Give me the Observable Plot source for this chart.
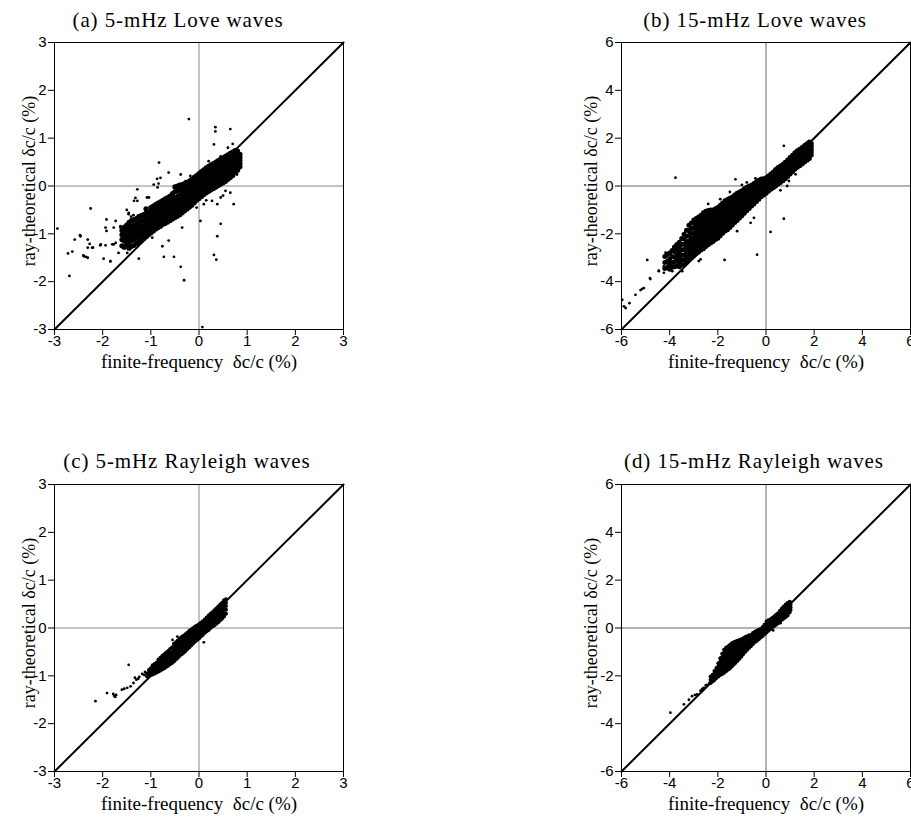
<!DOCTYPE html>
<html><head><meta charset="utf-8">
<script src="https://cdn.jsdelivr.net/npm/d3@7"></script>
<script src="https://cdn.jsdelivr.net/npm/@observablehq/plot@0.6"></script>
<style>
html,body{margin:0;padding:0;background:#fff;overflow:hidden;}
#wrap{position:relative;width:911px;height:819px;overflow:hidden;}
.panel{position:absolute;}
.ttl{position:absolute;font-family:"Liberation Serif",serif;font-size:21px;letter-spacing:0.9px;white-space:nowrap;transform:translate(-50%,-50%);color:#000;}
</style></head><body><div id="wrap"></div>
<script>
// ---------- data ----------
const titles = ["(a) 5-mHz Love waves", "(b) 15-mHz Love waves", "(c) 5-mHz Rayleigh waves", "(d) 15-mHz Rayleigh waves"];
const xLabel = "finite-frequency\u00a0\u00a0δc/c (%)";
const yLabel = "ray-theoretical δc/c (%)";
const ticks5 = [-3, -2, -1, 0, 1, 2, 3];
const ticks15 = [-6, -4, -2, 0, 2, 4, 6];
const diag5 = [-3, 3];
const diag15 = [-6, 6];

// (a) 5-mHz Love: dense band, columns [x, y...]
const love5Band = [
[-1.60,-1.25,-1.12,-1.02,-0.93],
[-1.55,-1.28,-1.15,-1.05,-0.95,-0.86],
[-1.50,-1.22,-1.10,-1.00,-0.90,-0.82],
[-1.45,-1.30,-1.18,-1.07,-0.97,-0.88,-0.76],
[-1.40,-1.26,-1.14,-1.04,-0.95,-0.84,-0.72],
[-1.35,-1.24,-1.12,-1.01,-0.92,-0.81,-0.70],
[-1.30,-1.20,-1.09,-0.99,-0.89,-0.79,-0.68],
[-1.25,-1.18,-1.06,-0.96,-0.86,-0.76,-0.64],
[-1.20,-1.14,-1.03,-0.93,-0.84,-0.73,-0.62],
[-1.15,-1.10,-1.00,-0.90,-0.81,-0.71,-0.60],
[-1.10,-1.06,-0.97,-0.87,-0.78,-0.68,-0.57,-0.48],
[-1.05,-1.02,-0.93,-0.84,-0.75,-0.65,-0.55],
[-1.00,-0.98,-0.90,-0.81,-0.72,-0.62,-0.53,-0.45],
[-0.95,-0.94,-0.86,-0.78,-0.69,-0.60,-0.51,-0.42],
[-0.90,-0.90,-0.82,-0.74,-0.66,-0.57,-0.48,-0.39],
[-0.85,-0.87,-0.79,-0.71,-0.63,-0.54,-0.45,-0.36],
[-0.80,-0.84,-0.76,-0.68,-0.60,-0.52,-0.43,-0.33],
[-0.75,-0.80,-0.72,-0.65,-0.57,-0.49,-0.40,-0.30],
[-0.70,-0.78,-0.70,-0.62,-0.54,-0.46,-0.37,-0.27],
[-0.65,-0.75,-0.67,-0.59,-0.51,-0.43,-0.34,-0.24],
[-0.60,-0.72,-0.64,-0.56,-0.48,-0.40,-0.31,-0.21],
[-0.55,-0.69,-0.61,-0.53,-0.45,-0.37,-0.28,-0.16],
[-0.50,-0.66,-0.58,-0.50,-0.42,-0.34,-0.25,-0.12,-0.02],
[-0.45,-0.63,-0.55,-0.47,-0.39,-0.31,-0.22,-0.10,0.00],
[-0.40,-0.60,-0.52,-0.44,-0.36,-0.28,-0.19,-0.08,0.02],
[-0.35,-0.56,-0.48,-0.40,-0.32,-0.24,-0.15,-0.05,0.03],
[-0.30,-0.52,-0.44,-0.36,-0.28,-0.20,-0.11,-0.02,0.05],
[-0.25,-0.48,-0.40,-0.32,-0.24,-0.16,-0.07,0.01,0.07],
[-0.20,-0.44,-0.36,-0.28,-0.20,-0.12,-0.04,0.04,0.10],
[-0.15,-0.40,-0.32,-0.24,-0.16,-0.08,0.00,0.07,0.14],
[-0.10,-0.35,-0.27,-0.19,-0.11,-0.03,0.05,0.12,0.18],
[-0.05,-0.30,-0.22,-0.14,-0.06,0.02,0.09,0.16,0.22],
[0.00,-0.26,-0.18,-0.10,-0.02,0.06,0.13,0.20,0.26],
[0.05,-0.22,-0.14,-0.06,0.02,0.10,0.17,0.24,0.30],
[0.10,-0.18,-0.10,-0.02,0.06,0.14,0.21,0.28,0.34],
[0.15,-0.14,-0.06,0.02,0.10,0.18,0.25,0.32,0.38],
[0.20,-0.11,-0.03,0.05,0.13,0.21,0.28,0.35,0.41],
[0.25,-0.08,0.00,0.08,0.16,0.24,0.31,0.38,0.44],
[0.30,-0.05,0.03,0.11,0.19,0.27,0.34,0.41,0.47],
[0.35,-0.02,0.06,0.14,0.22,0.30,0.37,0.44,0.50],
[0.40,0.01,0.09,0.17,0.25,0.33,0.40,0.47,0.53],
[0.45,0.04,0.12,0.20,0.28,0.36,0.43,0.50,0.56],
[0.50,0.07,0.15,0.23,0.31,0.39,0.46,0.53,0.59],
[0.55,0.10,0.18,0.26,0.34,0.42,0.49,0.56,0.62],
[0.60,0.14,0.22,0.30,0.38,0.45,0.52,0.59,0.65],
[0.65,0.18,0.26,0.34,0.41,0.48,0.55,0.62,0.68],
[0.70,0.22,0.30,0.37,0.44,0.51,0.58,0.65,0.71],
[0.75,0.28,0.35,0.42,0.49,0.56,0.63,0.69,0.74],
[0.80,0.33,0.40,0.47,0.54,0.61,0.67,0.73],
[0.85,0.40,0.47,0.54,0.60,0.66]
];
const love5Out = [
[-0.21,1.40],[0.34,1.23],[0.34,1.14],[0.65,1.19],[0.31,0.87],[-0.83,0.49],[-2.94,-0.89],[-2.25,-0.47],
[-2.47,-1.03],[-2.58,-1.12],[-2.31,-1.12],[-2.72,-1.41],[-2.63,-1.37],[-2.69,-1.88],[-2.39,-1.47],[-2.31,-1.50],
[-2.31,-1.29],[-2.22,-1.29],[-2.04,-1.22],[-1.98,-1.52],[-1.84,-1.57],[-1.92,-0.94],[-1.92,-0.70],[-1.77,-1.22],
[-1.73,-0.73],[-1.63,-0.87],[-1.25,-1.52],[-0.73,-1.48],[-0.63,-1.14],[-0.52,-1.48],[-0.38,-1.69],[-0.31,-1.97],
[0.07,-2.95],[0.31,-1.44],[0.36,-1.54],[0.38,-1.05],[0.45,-0.79],[0.27,-0.31],[0.38,-0.38],[0.65,-0.14],
[0.45,-0.24],[-0.80,0.17],[-0.63,0.28],[-0.38,0.24],[-1.28,-0.07],[-1.08,-0.24],[-1.35,-0.31],[-0.76,-1.26],
[-0.97,-1.08],[-0.35,-0.87],[0.03,-0.73],[0.10,-0.38],[-0.94,0.03],[-0.28,0.10],[-0.18,0.21],[0.72,-0.38],
[0.79,0.24],[-1.94,-0.87],[-1.77,-0.87],[-1.63,-0.84],[-1.60,-0.93],[-1.57,-1.00],[-2.46,-1.05],[-2.27,-1.21],
[-2.20,-1.29],[-2.40,-1.45],[-2.35,-1.48],[-2.05,-1.24],[-1.94,-1.24],[-1.84,-1.58],[-1.80,-1.22],[-1.73,-1.19],
[-1.67,-1.40],[-1.49,-1.40],[-1.42,-1.29],[-1.32,-0.25],[-1.28,-0.31],[-1.04,-0.24],[-1.46,-0.59],[-1.41,-0.64],
[-1.36,-0.61],[-1.50,-0.50],[-1.46,-0.56],[-0.97,-0.45],[-0.87,0.15],[-0.86,-0.03],[-0.84,0.05],[-1.23,-0.86],
[0.20,0.52],[0.45,0.62],[0.60,0.80],[0.70,0.88],[0.55,-0.10],[0.50,-0.20],[0.15,-0.30],[-0.05,-0.45]
];

// (b) 15-mHz Love
const love15Band = [
[-4.2,-3.45,-3.2,-2.95],
[-4.1,-3.4,-3.15,-2.85],
[-4.0,-3.48,-3.28,-3.05,-2.8],
[-3.9,-3.4,-3.2,-2.95,-2.7],
[-3.8,-3.38,-3.18,-2.98,-2.75,-2.55],
[-3.7,-3.35,-3.12,-2.9,-2.68,-2.45],
[-3.6,-3.38,-3.2,-3.0,-2.8,-2.58,-2.35],
[-3.5,-3.3,-3.1,-2.9,-2.68,-2.45,-2.2],
[-3.4,-3.28,-3.08,-2.88,-2.66,-2.44,-2.22,-2.02],
[-3.3,-3.18,-2.98,-2.78,-2.56,-2.34,-2.1,-1.85],
[-3.2,-3.08,-2.9,-2.7,-2.5,-2.3,-2.08,-1.86,-1.64],
[-3.1,-3.0,-2.82,-2.62,-2.42,-2.22,-2.0,-1.78,-1.55],
[-3.0,-2.92,-2.74,-2.55,-2.36,-2.16,-1.96,-1.76,-1.56,-1.42],
[-2.9,-2.84,-2.66,-2.47,-2.28,-2.08,-1.88,-1.68,-1.5,-1.36],
[-2.8,-2.76,-2.58,-2.4,-2.21,-2.02,-1.82,-1.62,-1.45,-1.3],
[-2.7,-2.68,-2.5,-2.32,-2.14,-1.95,-1.76,-1.56,-1.38,-1.22],
[-2.6,-2.62,-2.44,-2.26,-2.08,-1.9,-1.7,-1.5,-1.3,-1.12],
[-2.5,-2.53,-2.36,-2.18,-2.0,-1.82,-1.63,-1.44,-1.25,-1.06],
[-2.4,-2.46,-2.3,-2.12,-1.95,-1.77,-1.58,-1.4,-1.2,-1.02],
[-2.3,-2.38,-2.22,-2.05,-1.88,-1.7,-1.52,-1.34,-1.16,-1.0],
[-2.2,-2.32,-2.16,-1.99,-1.82,-1.65,-1.47,-1.3,-1.13,-1.0],
[-2.1,-2.24,-2.08,-1.92,-1.75,-1.58,-1.41,-1.24,-1.08,-0.95],
[-2.0,-2.18,-2.02,-1.86,-1.7,-1.53,-1.36,-1.19,-1.03,-0.9],
[-1.9,-2.08,-1.92,-1.76,-1.6,-1.44,-1.27,-1.1,-0.94,-0.8],
[-1.8,-1.98,-1.82,-1.66,-1.5,-1.34,-1.18,-1.02,-0.86,-0.71],
[-1.7,-1.88,-1.72,-1.56,-1.4,-1.24,-1.08,-0.92,-0.76,-0.62],
[-1.6,-1.83,-1.67,-1.51,-1.35,-1.19,-1.03,-0.87,-0.71,-0.56],
[-1.5,-1.73,-1.57,-1.41,-1.25,-1.09,-0.93,-0.78,-0.64,-0.51],
[-1.4,-1.63,-1.47,-1.31,-1.15,-0.99,-0.84,-0.7,-0.57,-0.46],
[-1.3,-1.53,-1.37,-1.21,-1.05,-0.9,-0.76,-0.62,-0.49,-0.38],
[-1.2,-1.44,-1.28,-1.12,-0.97,-0.82,-0.68,-0.54,-0.41,-0.3],
[-1.1,-1.34,-1.18,-1.03,-0.88,-0.74,-0.6,-0.47,-0.35,-0.25],
[-1.0,-1.24,-1.09,-0.94,-0.8,-0.66,-0.52,-0.39,-0.28,-0.2],
[-0.9,-1.14,-0.99,-0.85,-0.71,-0.57,-0.44,-0.31,-0.2,-0.12],
[-0.8,-1.04,-0.9,-0.76,-0.62,-0.49,-0.36,-0.24,-0.13,-0.05],
[-0.7,-0.94,-0.8,-0.67,-0.54,-0.41,-0.28,-0.16,-0.06,0.0],
[-0.6,-0.84,-0.71,-0.58,-0.45,-0.33,-0.21,-0.09,0.03],
[-0.5,-0.75,-0.62,-0.49,-0.37,-0.25,-0.13,-0.01,0.1],
[-0.4,-0.65,-0.52,-0.4,-0.28,-0.16,-0.04,0.08,0.18],
[-0.3,-0.55,-0.43,-0.31,-0.19,-0.07,0.05,0.15,0.24],
[-0.2,-0.45,-0.33,-0.21,-0.09,0.03,0.14,0.23,0.29],
[-0.1,-0.38,-0.26,-0.14,-0.02,0.1,0.2,0.3],
[0.0,-0.3,-0.18,-0.06,0.06,0.17,0.27,0.35],
[0.1,-0.22,-0.1,0.02,0.14,0.25,0.35,0.42],
[0.2,-0.14,-0.02,0.1,0.22,0.33,0.43,0.5],
[0.3,-0.07,0.06,0.18,0.3,0.41,0.51,0.59],
[0.4,0.0,0.13,0.26,0.38,0.49,0.6,0.69],
[0.5,0.08,0.21,0.34,0.46,0.57,0.68,0.77],
[0.6,0.15,0.28,0.41,0.53,0.64,0.75,0.84],
[0.7,0.22,0.35,0.48,0.6,0.71,0.82,0.91],
[0.8,0.3,0.43,0.56,0.68,0.79,0.9,0.99],
[0.9,0.4,0.52,0.64,0.76,0.87,0.98,1.09],
[1.0,0.5,0.62,0.74,0.86,0.97,1.08,1.19],
[1.1,0.6,0.72,0.84,0.96,1.07,1.18,1.29],
[1.2,0.7,0.82,0.94,1.06,1.17,1.28,1.39],
[1.3,0.78,0.9,1.02,1.14,1.25,1.36,1.47],
[1.4,0.85,0.97,1.09,1.21,1.32,1.43,1.54],
[1.5,0.92,1.04,1.16,1.28,1.39,1.5,1.61],
[1.6,1.0,1.12,1.24,1.36,1.47,1.58,1.69],
[1.7,1.08,1.2,1.32,1.44,1.55,1.66,1.77],
[1.8,1.15,1.27,1.39,1.51,1.62,1.73,1.84],
[1.88,1.3,1.42,1.54,1.66,1.78]
];
const love15Out = [
[-3.76,0.35],[-1.27,0.28],[-0.44,0.32],[0.74,1.68],[0.74,-1.37],[0.19,-1.92],[-0.37,-2.87],[-1.72,-3.09],
[-4.93,-3.09],[-4.80,-3.89],[-4.45,-3.56],[-4.24,-3.63],[-4.21,-3.42],[-4.03,-3.21],[-4.17,-2.79],[-4.10,-2.93],
[-3.89,-3.56],[-3.83,-3.35],[-3.55,-3.14],[-3.48,-3.56],[-5.97,-4.76],[-5.90,-5.03],[-5.83,-5.10],[-5.67,-4.90],
[-5.42,-4.55],[-5.14,-4.30],[-5.07,-4.27],[-5.21,-4.35],[-4.82,-3.85],[-4.45,-3.54],[-4.24,-3.36],[-3.34,-1.89],
[-3.20,-1.96],[0.88,0.0],[0.60,-0.18],[0.95,0.21],[1.16,0.63],[1.23,0.49],[-1.20,-1.89],[-0.64,-1.54],
[-0.50,-1.33],[-2.79,-3.14],[-2.72,-3.07],[-2.4,-0.75],[-1.9,-0.55],[-1.5,-0.25],[-1.0,0.05],[-0.8,0.15]
];

// (c) 5-mHz Rayleigh
const ray5Band = [
[-1.08,-1.01,-0.95],
[-1.04,-1.0,-0.94,-0.88],
[-1.00,-0.98,-0.91,-0.84],
[-0.96,-0.97,-0.9,-0.83,-0.78],
[-0.92,-0.95,-0.88,-0.81,-0.75],
[-0.88,-0.93,-0.86,-0.79,-0.72],
[-0.84,-0.91,-0.84,-0.77,-0.7,-0.66],
[-0.80,-0.89,-0.82,-0.75,-0.68,-0.62],
[-0.76,-0.86,-0.79,-0.72,-0.65,-0.58],
[-0.72,-0.84,-0.77,-0.7,-0.62,-0.55],
[-0.68,-0.81,-0.74,-0.67,-0.59,-0.51],
[-0.64,-0.79,-0.72,-0.64,-0.56,-0.48],
[-0.60,-0.76,-0.69,-0.61,-0.53,-0.44],
[-0.56,-0.73,-0.66,-0.58,-0.5,-0.41],
[-0.52,-0.7,-0.62,-0.54,-0.46,-0.38,-0.33],
[-0.48,-0.66,-0.58,-0.5,-0.42,-0.35,-0.3],
[-0.44,-0.62,-0.54,-0.46,-0.39,-0.32,-0.26],
[-0.40,-0.58,-0.5,-0.43,-0.36,-0.29,-0.22],
[-0.36,-0.55,-0.47,-0.4,-0.33,-0.26,-0.19],
[-0.32,-0.52,-0.44,-0.37,-0.3,-0.23,-0.16],
[-0.28,-0.48,-0.41,-0.34,-0.27,-0.2,-0.13],
[-0.24,-0.44,-0.37,-0.3,-0.23,-0.16,-0.1],
[-0.20,-0.4,-0.33,-0.26,-0.19,-0.12,-0.06],
[-0.16,-0.36,-0.29,-0.22,-0.15,-0.09,-0.03],
[-0.12,-0.32,-0.25,-0.18,-0.12,-0.06,0.0],
[-0.08,-0.28,-0.21,-0.14,-0.08,-0.02,0.03],
[-0.04,-0.25,-0.18,-0.11,-0.05,0.01,0.05],
[0.00,-0.22,-0.15,-0.08,-0.02,0.04,0.08],
[0.04,-0.18,-0.11,-0.04,0.02,0.07,0.11],
[0.08,-0.14,-0.07,0.0,0.06,0.11,0.14],
[0.12,-0.1,-0.03,0.04,0.1,0.15,0.18],
[0.16,-0.07,0.0,0.07,0.13,0.18,0.22],
[0.20,-0.04,0.03,0.1,0.16,0.21,0.26],
[0.24,0.0,0.07,0.14,0.2,0.25,0.3],
[0.28,0.03,0.1,0.17,0.23,0.28,0.33],
[0.32,0.06,0.13,0.2,0.26,0.32,0.37],
[0.36,0.09,0.16,0.23,0.3,0.36,0.41],
[0.40,0.12,0.19,0.26,0.33,0.39,0.45],
[0.44,0.16,0.23,0.3,0.37,0.43,0.49],
[0.48,0.2,0.27,0.34,0.41,0.47,0.53],
[0.52,0.24,0.31,0.38,0.45,0.52,0.58],
[0.56,0.3,0.38,0.46,0.53,0.6]
];
const ray5Out = [
[-2.15,-1.53],[-1.91,-1.36],[-1.78,-1.38],[-1.76,-1.42],[-1.74,-1.44],[-1.72,-1.40],[-1.60,-1.29],[-1.55,-1.27],
[-1.49,-1.25],[-1.46,-0.77],[-1.42,-1.22],[-1.36,-1.15],[-1.30,-1.08],[-1.24,-1.02],[-1.18,-0.96],[-1.14,-0.98],
[-1.12,-0.92],[-1.26,-1.06],[-1.33,-1.04],[-0.45,-0.18],[-0.55,-0.25],[0.1,-0.3]
];

// (d) 15-mHz Rayleigh
const ray15Band = [
[-2.30,-2.3,-2.16,-2.03],
[-2.22,-2.24,-2.1,-1.95],
[-2.14,-2.17,-2.03,-1.9,-1.8],
[-2.06,-2.09,-1.95,-1.81,-1.67],
[-1.98,-2.03,-1.89,-1.75,-1.61,-1.47],
[-1.90,-1.97,-1.83,-1.69,-1.55,-1.41,-1.27],
[-1.82,-1.92,-1.78,-1.64,-1.5,-1.36,-1.22,-1.08],
[-1.74,-1.87,-1.73,-1.59,-1.45,-1.31,-1.17,-1.03,-0.91],
[-1.66,-1.81,-1.67,-1.53,-1.39,-1.25,-1.11,-0.97,-0.83],
[-1.58,-1.75,-1.61,-1.47,-1.33,-1.19,-1.05,-0.91,-0.77],
[-1.50,-1.69,-1.55,-1.41,-1.27,-1.13,-0.99,-0.85,-0.71],
[-1.42,-1.61,-1.47,-1.33,-1.19,-1.05,-0.91,-0.77,-0.64],
[-1.34,-1.53,-1.39,-1.25,-1.11,-0.98,-0.85,-0.72,-0.6],
[-1.26,-1.45,-1.31,-1.18,-1.05,-0.92,-0.79,-0.67,-0.56],
[-1.18,-1.37,-1.24,-1.11,-0.98,-0.86,-0.74,-0.63,-0.53],
[-1.10,-1.29,-1.16,-1.03,-0.91,-0.8,-0.69,-0.59,-0.5],
[-1.02,-1.19,-1.07,-0.95,-0.84,-0.74,-0.64,-0.55,-0.47],
[-0.94,-1.09,-0.98,-0.87,-0.77,-0.67,-0.58,-0.5,-0.43],
[-0.86,-0.99,-0.89,-0.79,-0.7,-0.61,-0.53,-0.45,-0.38],
[-0.78,-0.91,-0.81,-0.72,-0.63,-0.55,-0.47,-0.4,-0.34],
[-0.70,-0.83,-0.73,-0.64,-0.56,-0.48,-0.41,-0.35,-0.3],
[-0.62,-0.75,-0.66,-0.57,-0.49,-0.42,-0.35,-0.29],
[-0.54,-0.67,-0.58,-0.5,-0.42,-0.35,-0.28,-0.21],
[-0.46,-0.59,-0.51,-0.43,-0.36,-0.29,-0.22,-0.16],
[-0.38,-0.53,-0.45,-0.37,-0.3,-0.23,-0.17,-0.11],
[-0.30,-0.47,-0.39,-0.31,-0.24,-0.17,-0.11,-0.07],
[-0.22,-0.4,-0.32,-0.24,-0.17,-0.1,-0.04],
[-0.14,-0.33,-0.25,-0.17,-0.1,-0.03,0.04],
[-0.06,-0.26,-0.18,-0.1,-0.02,0.06,0.14],
[0.02,-0.19,-0.1,-0.01,0.08,0.17,0.27],
[0.10,-0.12,-0.03,0.06,0.15,0.24,0.32],
[0.18,-0.05,0.04,0.13,0.21,0.29,0.36],
[0.26,0.02,0.1,0.18,0.26,0.34,0.42],
[0.34,0.08,0.16,0.24,0.32,0.4,0.48],
[0.42,0.14,0.22,0.3,0.38,0.46,0.55],
[0.50,0.2,0.28,0.36,0.44,0.53,0.62],
[0.58,0.27,0.36,0.45,0.54,0.63,0.72],
[0.66,0.34,0.44,0.54,0.63,0.73,0.82],
[0.74,0.4,0.5,0.6,0.7,0.8,0.9],
[0.82,0.46,0.56,0.67,0.77,0.88,0.98],
[0.90,0.52,0.63,0.74,0.85,0.95,1.05],
[0.98,0.65,0.76,0.87,0.98,1.1],
[1.02,0.75,0.86,0.97,1.07]
];
const ray15Out = [
[-3.97,-3.54],[-3.41,-3.19],[-3.20,-3.0],[-3.07,-2.85],[-2.95,-2.80],[-2.86,-2.78],[-2.72,-2.62],[-2.58,-2.50],
[-2.45,-2.38],[-2.35,-2.30],[-2.24,-2.22],[-2.65,-2.55],[-2.50,-2.40],[0.3,-0.1],[0.6,0.2]
];

// ---------- drawing ----------
const wrap = document.getElementById("wrap");
const sans = "Liberation Sans, Arial, Helvetica, sans-serif";
const serif = "Liberation Serif, Times New Roman, serif";

function panel({band, out, diag, ticks, left, top, mL, mR, zeroColor, labelDx, title, tX, tY, rBand}) {
  const bandPts = [];
  for (const [x, ...ys] of band) for (const y of ys) bandPts.push({x, y});
  const outPts = out.map(([x, y]) => ({x, y}));
  const W = mL + 289 + mR;
  const p = Plot.plot({
    width: W, height: 42 + 287 + 50,
    marginLeft: mL, marginRight: mR, marginTop: 42, marginBottom: 50,
    style: {background: "transparent", overflow: "visible", fontFamily: sans, fontSize: "14px", color: "#000"},
    x: {domain: diag},
    y: {domain: diag},
    marks: [
      Plot.ruleX([0], {stroke: zeroColor, strokeWidth: 1}),
      Plot.ruleY([0], {stroke: zeroColor, strokeWidth: 1}),
      Plot.line(diag.map(v => ({x: v, y: v})), {x: "x", y: "y", stroke: "#000", strokeWidth: 2}),
      Plot.dot(bandPts, {x: "x", y: "y", r: rBand, fill: "#000", stroke: null}),
      Plot.dot(outPts, {x: "x", y: "y", r: 1.4, fill: "#000", stroke: null}),
      Plot.frame({stroke: "#000", strokeWidth: 1}),
      Plot.axisX({ticks, tickSize: 6, tickFormat: () => "", label: null}),
      Plot.axisY({ticks, tickSize: 6, tickFormat: () => "", label: null}),
      Plot.text(ticks, {x: d => d, text: d => String(d), frameAnchor: "bottom", lineAnchor: "top", textAnchor: "middle", dy: 6, fontSize: 15, fontFamily: sans, fill: "#000"}),
      Plot.text(ticks, {y: d => d, text: d => String(d), frameAnchor: "left", lineAnchor: "middle", textAnchor: "end", dx: -8, fontSize: 15, fontFamily: sans, fill: "#000"}),
      Plot.text([xLabel], {text: d => d, frameAnchor: "bottom", lineAnchor: "middle", textAnchor: "middle", dy: 32, fontFamily: serif, fontSize: 19}),
      Plot.text([yLabel], {text: d => d, frameAnchor: "left", lineAnchor: "middle", textAnchor: "middle", rotate: -90, dx: labelDx, dy: -5, fontFamily: serif, fontSize: 18})
    ]
  });
  p.classList.add("panel");
  p.style.left = left + "px";
  p.style.top = top + "px";
  wrap.appendChild(p);
  const t = document.createElement("div");
  t.className = "ttl";
  t.textContent = title;
  t.style.left = tX + "px";
  t.style.top = tY + "px";
  wrap.appendChild(t);
}

panel({band: love5Band, out: love5Out, diag: diag5, ticks: ticks5, left: 0, top: 0, mL: 54, mR: 17, zeroColor: "#888", labelDx: -25, title: titles[0], tX: 178, tY: 20, rBand: 2.6});
panel({band: love15Band, out: love15Out, diag: diag15, ticks: ticks15, left: 560, top: 0, mL: 61, mR: 1, zeroColor: "#666", labelDx: -30, title: titles[1], tX: 755, tY: 20, rBand: 2.5});
panel({band: ray5Band, out: ray5Out, diag: diag5, ticks: ticks5, left: 0, top: 442, mL: 54, mR: 17, zeroColor: "#888", labelDx: -25, title: titles[2], tX: 187, tY: 461, rBand: 2.0});
panel({band: ray15Band, out: ray15Out, diag: diag15, ticks: ticks15, left: 560, top: 442, mL: 61, mR: 1, zeroColor: "#666", labelDx: -30, title: titles[3], tX: 754, tY: 461, rBand: 2.0});
</script></body></html>
